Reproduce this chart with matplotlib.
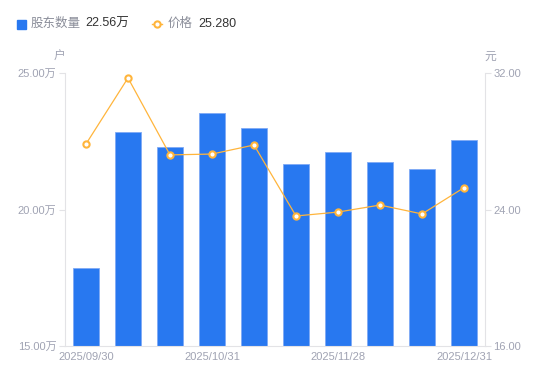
import matplotlib
matplotlib.use('Agg')
from matplotlib import pyplot as plt
from matplotlib.lines import Line2D

plt.rcParams['font.family'] = ['Liberation Sans', 'Noto Sans CJK SC', 'DejaVu Sans']

dates = ['2025/09/30', '2025/10/10', '2025/10/20', '2025/10/31', '2025/11/07',
         '2025/11/14', '2025/11/28', '2025/12/10', '2025/12/19', '2025/12/31']
holders = [17.86, 22.84, 22.29, 23.53, 22.99, 21.67, 22.11, 21.74, 21.48, 22.56]  # 万户
price = [27.84, 31.71, 27.20, 27.25, 27.78, 23.62, 23.85, 24.26, 23.74, 25.28]
label_idx = [0, 3, 6, 9]
holder_ticks = [15, 20, 25]
price_ticks = [16, 24, 32]

blue = '#2878F0'
orange = '#FFB53C'
gray = '#A0A3B3'
axis_gray = '#E3E3E6'

fig = plt.figure(figsize=(5.5, 3.81), dpi=100)
ax = fig.add_axes([65 / 550, 1 - 346 / 381, 420 / 550, 273 / 381])
ax2 = ax.twinx()

x = list(range(len(dates)))
ax.bar(x, holders, width=0.6, color=blue, edgecolor='#7FAAF5', linewidth=0.6, zorder=2)
ax.set_ylim(15, 25)
ax.set_xlim(-0.5, len(dates) - 0.5)
ax.set_yticks(holder_ticks)
ax.set_yticklabels([f'{v:.2f}万' for v in holder_ticks])
ax.set_xticks([x[i] for i in label_idx])
ax.set_xticklabels([dates[i] for i in label_idx])

ax2.plot(x, price, color=orange, linewidth=0.9, marker='o', markersize=4.5,
         markerfacecolor='white', markeredgecolor=orange, markeredgewidth=1.5, zorder=3)
ax2.set_ylim(16, 32)
ax2.set_yticks(price_ticks)
ax2.set_yticklabels([f'{v:.2f}' for v in price_ticks])

for a in (ax, ax2):
    for s in a.spines.values():
        s.set_visible(False)
    a.tick_params(colors=gray, labelsize=8, length=4, width=0.8, color=axis_gray)
ax.spines['left'].set_visible(True)
ax.spines['left'].set_color(axis_gray)
ax.spines['bottom'].set_visible(True)
ax.spines['bottom'].set_color(axis_gray)
ax2.spines['right'].set_visible(True)
ax2.spines['right'].set_color(axis_gray)
ax.tick_params(axis='x', length=0, pad=4)
ax.tick_params(axis='y', pad=2)
ax2.tick_params(axis='y', pad=2)

fig.text(59 / 550, 1 - 57 / 381, '户', color=gray, fontsize=8.5, ha='center', va='center')
fig.text(490 / 550, 1 - 57 / 381, '元', color=gray, fontsize=8.5, ha='center', va='center')

# legend
fig.patches.append(plt.Rectangle((17 / 550, 1 - 28.5 / 381), 8.5 / 550, 8.5 / 381,
                                 transform=fig.transFigure, color=blue, figure=fig))
fig.text(31 / 550, 1 - 24 / 381, '股东数量', color='#8A8D99', fontsize=9, va='center')
fig.text(85 / 550, 1 - 24 / 381, f'{holders[-1]:.2f}万', color='#333333', fontsize=9, va='center')
fig.lines.append(Line2D([152 / 550, 162 / 550], [1 - 24 / 381, 1 - 24 / 381], transform=fig.transFigure,
                        color=orange, linewidth=1))
fig.lines.append(Line2D([157 / 550], [1 - 24 / 381], transform=fig.transFigure, color=orange,
                        marker='o', markersize=4.5, markerfacecolor='white', markeredgewidth=1.5))
fig.text(168 / 550, 1 - 24 / 381, '价格', color='#8A8D99', fontsize=9, va='center')
fig.text(198 / 550, 1 - 24 / 381, f'{price[-1]:.3f}', color='#333333', fontsize=9, va='center')

fig.savefig('out.png', dpi=100)
